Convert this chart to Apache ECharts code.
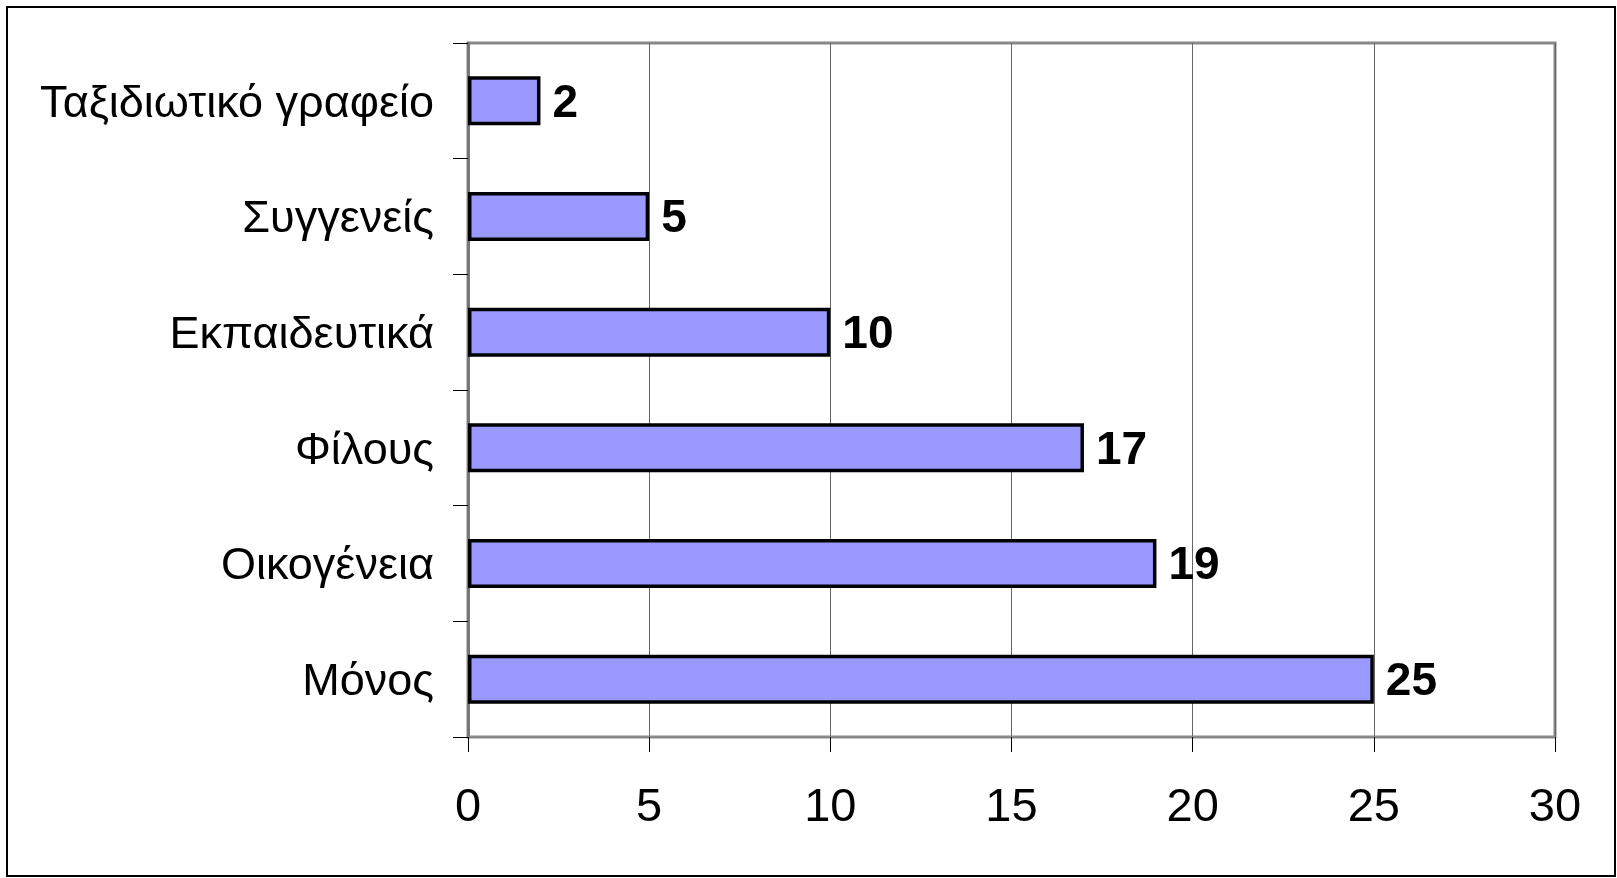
<!DOCTYPE html>
<html>
<head>
<meta charset="utf-8">
<script src="https://cdn.jsdelivr.net/npm/echarts@6/dist/echarts.min.js"></script>
<style>
  html, body { margin: 0; padding: 0; background: #fff; }
  #chart { width: 1617px; height: 878px; }
</style>
</head>
<body>
<div id="chart"></div>
<script>
// Categories listed bottom-to-top (category axis starts at the bottom)
const categories = ['Μόνος', 'Οικογένεια', 'Φίλους', 'Εκπαιδευτικά', 'Συγγενείς', 'Ταξιδιωτικό γραφείο'];
const counts = [25, 19, 17, 10, 5, 2];
const xTicks = { min: 0, max: 30, interval: 5 };

const FONT = '"Liberation Sans", Arial, sans-serif';

const chart = echarts.init(document.getElementById('chart'), null, { renderer: 'canvas' });
chart.setOption({
  backgroundColor: '#ffffff',
  animation: false,
  graphic: [{
    type: 'rect',
    shape: { x: 7, y: 7, width: 1608, height: 869 },
    style: { fill: 'none', stroke: '#000', lineWidth: 2 },
    z: -1
  }],
  grid: {
    left: 468, top: 43, width: 1087, height: 694,
    show: true, borderColor: '#888888', borderWidth: 3, backgroundColor: '#ffffff'
  },
  xAxis: {
    type: 'value',
    min: xTicks.min, max: xTicks.max, interval: xTicks.interval,
    axisLine: { show: true, lineStyle: { color: '#888888', width: 2 } },
    axisTick: { show: true, length: 15, lineStyle: { color: '#000', width: 1 } },
    splitLine: { show: true, lineStyle: { color: '#666666', width: 1 } },
    axisLabel: { color: '#000', fontFamily: FONT, fontSize: 47, margin: 48 }
  },
  yAxis: {
    type: 'category',
    data: categories,
    axisLine: { show: true, lineStyle: { color: '#777777', width: 3 } },
    axisTick: { show: true, length: 15, lineStyle: { color: '#000', width: 1 } },
    axisLabel: {
      color: '#000', fontFamily: FONT, fontSize: 45, margin: 34,
      formatter: v => '{t|' + v + '}',
      rich: { t: { fontFamily: FONT, fontSize: 45, color: '#000', padding: [7, 0, 0, 0] } }
    }
  },
  series: [{
    type: 'bar',
    data: counts,
    barWidth: 49,
    itemStyle: { color: '#9999FF', borderColor: '#000', borderWidth: 3.5 },
    label: {
      show: true, position: 'right', distance: 12, offset: [0, 3],
      color: '#000', fontFamily: FONT, fontSize: 46, fontWeight: 'bold'
    }
  }]
});
</script>
</body>
</html>
